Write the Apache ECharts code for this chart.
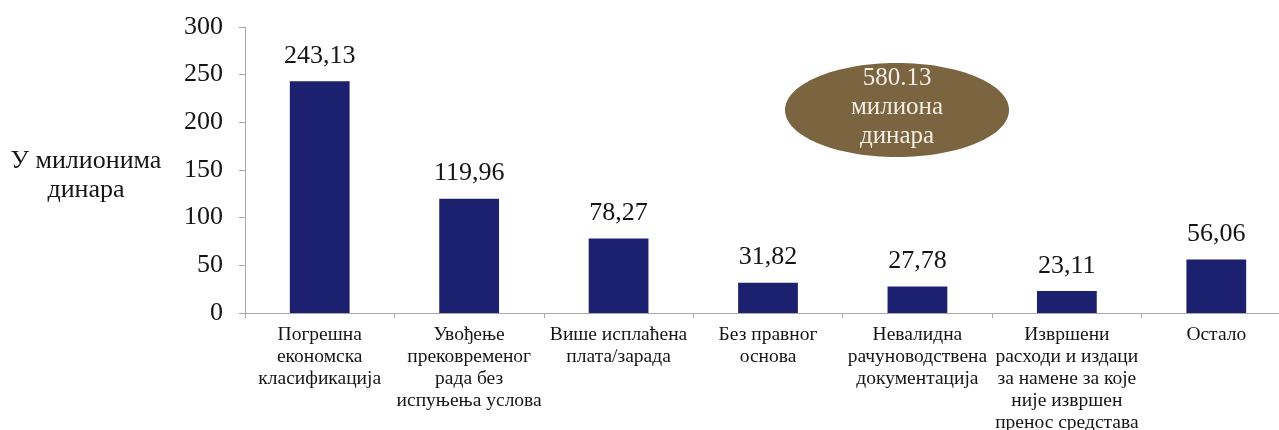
<!DOCTYPE html>
<html>
<head>
<meta charset="utf-8">
<script src="https://cdn.jsdelivr.net/npm/echarts@6/dist/echarts.min.js"></script>
<style>
html, body { margin: 0; padding: 0; background: #fff; }
#chart { width: 1279px; height: 430px; }
</style>
</head>
<body>
<div id="chart"></div>
<script>
// категорије и вредности (у милионима динара)
var categories = [
	'Погрешна\nекономска\nкласификација',
	'Увођење\nпрековременог\nрада без\nиспуњења услова',
	'Више исплаћена\nплата/зарада',
	'Без правног\nоснова',
	'Невалидна\nрачуноводствена\nдокументација',
	'Извршени\nрасходи и издаци\nза намене за које\nније извршен\nпренос средстава',
	'Остало'
];
var values = [243.13, 119.96, 78.27, 31.82, 27.78, 23.11, 56.06];
var yTicks = [0, 50, 100, 150, 200, 250, 300];
var totalText = '580.13';

var serif = '"Liberation Serif", "DejaVu Serif", serif';
var chart = echarts.init(document.getElementById('chart'));

chart.setOption({
	animation : false,
	grid : {
		left : 245,
		width : 1046,	// оса се наставља иза десне ивице слике
		top : 27,
		bottom : 117,
		outerBoundsMode : 'none'
	},
	xAxis : {
		type : 'category',
		data : categories,
		axisLine : { lineStyle : { color : '#a8a8a8' } },
		axisTick : { show : true, length : 5, lineStyle : { color : '#a8a8a8' } },
		axisLabel : {
			interval : 0,
			margin : 11,
			fontFamily : serif,
			fontSize : 19.5,
			lineHeight : 22,
			color : '#151515'
		}
	},
	yAxis : {
		type : 'value',
		min : yTicks[0],
		max : yTicks[yTicks.length - 1],
		interval : 50,
		splitLine : { show : false },
		axisLine : { show : true, lineStyle : { color : '#a8a8a8' } },
		axisTick : { show : true, length : 6, lineStyle : { color : '#a8a8a8' } },
		axisLabel : {
			margin : 22,
			fontFamily : serif,
			fontSize : 26,
			color : '#151515'
		}
	},
	series : [{
		type : 'bar',
		data : values,
		barWidth : '40%',
		itemStyle : { color : '#1b216e' },
		label : {
			show : true,
			position : 'top',
			distance : 12,
			fontFamily : serif,
			fontSize : 26,
			color : '#151515',
			formatter : function(p) {
				return p.value.toFixed(2).replace('.', ',');
			}
		}
	}],
	graphic : [{
		type : 'text',
		x : 86,
		y : 176,
		style : {
			text : 'У милионима\nдинара',
			font : '26px ' + serif,
			fill : '#151515',
			align : 'center',
			verticalAlign : 'middle',
			lineHeight : 29
		}
	}, {
		type : 'ellipse',
		shape : { cx : 897, cy : 110, rx : 112, ry : 47 },
		style : { fill : '#7b6440' }
	}, {
		type : 'text',
		x : 897,
		y : 107,
		style : {
			text : totalText + '\nмилиона\nдинара',
			font : '25px ' + serif,
			fill : '#f2eee6',
			align : 'center',
			verticalAlign : 'middle',
			lineHeight : 29
		}
	}]
});
</script>
</body>
</html>
